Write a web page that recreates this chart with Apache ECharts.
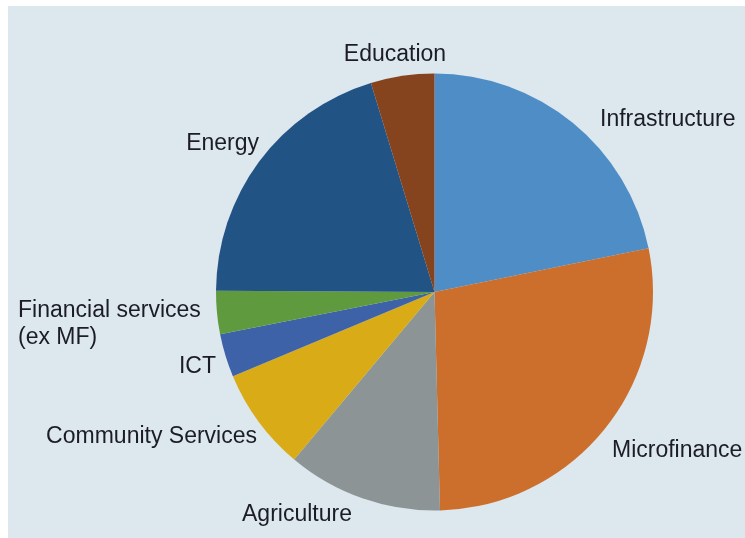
<!DOCTYPE html>
<html>
<head>
<meta charset="utf-8">
<script src="https://cdn.jsdelivr.net/npm/echarts@6/dist/echarts.min.js"></script>
<style>
html,body{margin:0;padding:0;background:#ffffff;}
#chart{position:absolute;left:0;top:0;width:745px;height:538px;}
</style>
</head>
<body>
<div id="chart"></div>
<script>
const categories = ['Infrastructure', 'Microfinance', 'Agriculture', 'Community Services', 'ICT', 'Financial services\n(ex MF)', 'Energy', 'Education'];
const shares = [21.8, 27.8, 11.5, 7.6, 3.2, 3.2, 20.2, 4.7];
const sliceColors = ['#4e8dc5', '#cc6f2d', '#8c9496', '#d9ab17', '#3e62a8', '#5f9a3f', '#215385', '#85431e'];

// label anchor positions (px) and alignment
const labelPos = [
  [600, 120, 'left'],
  [612, 451, 'left'],
  [297, 515, 'center'],
  [257, 437, 'right'],
  [216, 367, 'right'],
  [18, 324, 'left'],
  [259, 144, 'right'],
  [395, 55, 'center']
];

const chart = echarts.init(document.getElementById('chart'));
chart.setOption({
  backgroundColor: '#ffffff',
  animation: false,
  graphic: [{
    type: 'rect', z: -10, silent: true,
    shape: {x: 8, y: 6, width: 737, height: 532},
    style: {fill: '#dce7ee'}
  }],
  series: [{
    type: 'pie',
    center: [434.5, 292],
    radius: 218.5,
    startAngle: 90,
    clockwise: true,
    label: {
      show: true,
      position: 'outside',
      formatter: '{b}',
      fontFamily: 'Liberation Sans, Arial, sans-serif',
      fontSize: 23,
      lineHeight: 27,
      color: '#1c1c26',
      overflow: 'none',
      width: 400
    },
    labelLine: {show: false},
    labelLayout: function (p) {
      const lp = labelPos[p.dataIndex];
      return {x: lp[0], y: lp[1], align: lp[2], verticalAlign: 'middle', hideOverlap: false, moveOverlap: false};
    },
    emphasis: {disabled: true},
    itemStyle: {borderWidth: 0},
    data: categories.map((c, i) => ({name: c, value: shares[i], itemStyle: {color: sliceColors[i]}}))
  }]
});
</script>
</body>
</html>
